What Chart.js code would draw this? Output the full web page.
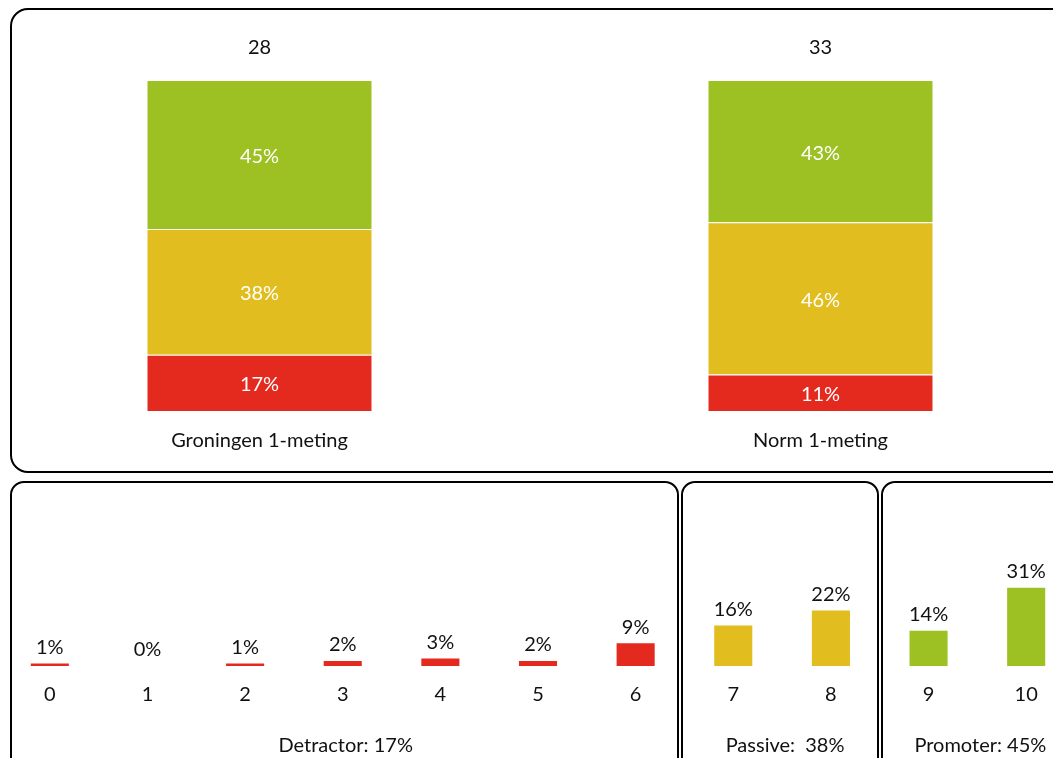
<!DOCTYPE html>
<html>
<head>
<meta charset="utf-8">
<script src="https://cdn.jsdelivr.net/npm/chart.js@4"></script>
<style>
    html, body {
        margin: 0;
        padding: 0;
        background: #fff;
        width: 1053px;
        height: 758px;
        overflow: hidden;
        position: relative;
        font-family: "Lato", "Open Sans", sans-serif;
    }

    .paneel {
        position: absolute;
        box-sizing: border-box;
        border: 2px solid #000;
    }

    canvas {
        position: absolute;
        top: 0;
    }
</style>
</head>
<body>

<div class="paneel" style="left:10px; top:8px; width:1100px; height:465px; border-radius:18px;"></div>
<div class="paneel" style="left:10px; top:481px; width:669px; height:300px; border-radius:14px;"></div>
<div class="paneel" style="left:681px; top:481px; width:198px; height:300px; border-radius:14px;"></div>
<div class="paneel" style="left:881px; top:481px; width:260px; height:300px; border-radius:14px;"></div>

<div style="position:absolute; left:-21px; top:0; width:1122px; height:758px;">
    <canvas id="grafiekTotaal"></canvas>
</div>
<div style="position:absolute; left:1px; top:0; width:1074px; height:758px;">
    <canvas id="grafiekScores"></canvas>
</div>

<script>
/* ==========================================================================
   NPS overzicht - stapelbalk + verdeling per score
   ========================================================================== */

// bovenste grafiek
const categorieen = ["Groningen 1-meting", "Norm 1-meting"];
const totalen = [28, 33];
const detractors = [17, 11];
const passives = [38, 46];
const promoters = [45, 43];

// onderste grafiek
const scores = ["0", "1", "2", "3", "4", "5", "6", "7", "8", "9", "10"];
const scorePercentages = [1, 0, 1, 2, 3, 2, 9, 16, 22, 14, 31];
const groepNamen = ["Detractor:", "Passive: ", "Promoter:"];
const groepScores = [[0, 6], [7, 8], [9, 10]];

const ROOD = "#e4291e";
const GEEL = "#e1bd1f";
const GROEN = "#9dc022";
const TEKST = "#111111";
const LETTER = "Lato, 'Open Sans', sans-serif";

function kleurVoorScore(score) {
    if (score <= 6) return ROOD;
    if (score <= 8) return GEEL;
    return GROEN;
}

const labelsTotaal = {
    id: "labelsTotaal",
    afterDatasetsDraw(chart) {
        const ctx = chart.ctx;
        const area = chart.chartArea;
        const xs = chart.scales.x;

        ctx.save();
        ctx.textAlign = "center";
        ctx.textBaseline = "middle";

        chart.data.datasets.forEach((ds, di) => {
            const meta = chart.getDatasetMeta(di);
            meta.data.forEach((bar, i) => {
                ctx.fillStyle = "#ffffff";
                ctx.font = "20px " + LETTER;
                ctx.fillText(ds.data[i] + "%", bar.x, (bar.y + bar.base) / 2 + 2);
            });
        });

        categorieen.forEach((cat, i) => {
            const x = xs.getPixelForValue(i);
            ctx.fillStyle = TEKST;
            ctx.font = "20px " + LETTER;
            ctx.fillText(String(totalen[i]), x, area.top - 32);
            ctx.fillText(cat, x, area.bottom + 30);
        });

        ctx.restore();
    }
};

const labelsScores = {
    id: "labelsScores",
    afterDatasetsDraw(chart) {
        const ctx = chart.ctx;
        const area = chart.chartArea;
        const xs = chart.scales.x;
        const meta = chart.getDatasetMeta(0);

        ctx.save();
        ctx.textAlign = "center";
        ctx.textBaseline = "middle";
        ctx.fillStyle = TEKST;
        ctx.font = "20px " + LETTER;

        meta.data.forEach((bar, i) => {
            ctx.fillText(scorePercentages[i] + "%", bar.x, bar.y - 16);
            ctx.fillText(scores[i], bar.x, area.bottom + 29);
        });

        groepNamen.forEach((naam, g) => {
            const [van, tot] = groepScores[g];
            const x = (xs.getPixelForValue(van) + xs.getPixelForValue(tot)) / 2;
            const totaal = [detractors, passives, promoters][g][0];
            ctx.fillText(naam + " " + totaal + "%", x + 3, area.bottom + 80);
        });

        ctx.restore();
    }
};

new Chart(document.getElementById("grafiekTotaal"), {
    type: "bar",
    data: {
        labels: categorieen,
        datasets: [
            { label: "Detractor", data: detractors, backgroundColor: ROOD },
            { label: "Passive", data: passives, backgroundColor: GEEL },
            { label: "Promoter", data: promoters, backgroundColor: GROEN }
        ].map(ds => ({
            ...ds,
            borderColor: "#ffffff",
            borderWidth: { top: 1, left: 0, right: 0, bottom: 0 },
            borderSkipped: false,
            categoryPercentage: 1,
            barPercentage: 0.4
        }))
    },
    options: {
        responsive: true,
        maintainAspectRatio: false,
        animation: false,
        layout: { padding: { top: 80, bottom: 347, left: 0, right: 0 } },
        plugins: { legend: { display: false }, tooltip: { enabled: false } },
        scales: {
            x: { stacked: true, display: false },
            y: { stacked: true, display: false, min: 0, max: 100 }
        }
    },
    plugins: [labelsTotaal]
});

new Chart(document.getElementById("grafiekScores"), {
    type: "bar",
    data: {
        labels: scores,
        datasets: [{
            label: "Score",
            data: scorePercentages,
            backgroundColor: scores.map(s => kleurVoorScore(Number(s))),
            borderWidth: 0,
            categoryPercentage: 1,
            barPercentage: 0.39
        }]
    },
    options: {
        responsive: true,
        maintainAspectRatio: false,
        animation: false,
        layout: { padding: { top: 565, bottom: 92, left: 0, right: 0 } },
        plugins: { legend: { display: false }, tooltip: { enabled: false } },
        scales: {
            x: { display: false },
            y: { display: false, min: 0, max: 40 }
        }
    },
    plugins: [labelsScores]
});
</script>
</body>
</html>
